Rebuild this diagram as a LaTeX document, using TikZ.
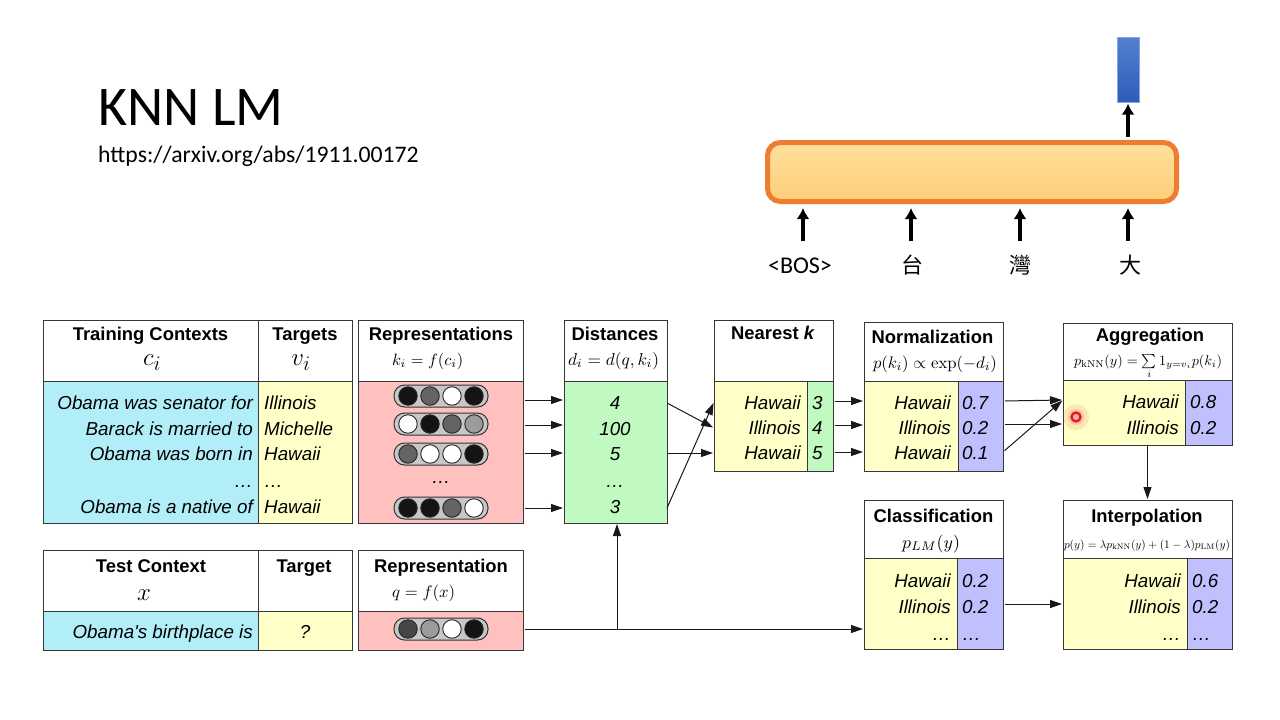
\documentclass[tikz,border=0pt]{standalone}
\usepackage{fontspec}
\usepackage{graphicx}
\usetikzlibrary{arrows.meta}
\newfontfamily\slidefont{Carlito}
\newfontfamily\cjkfont{Noto Sans CJK TC}
\newfontfamily\dfont{Liberation Sans}
\definecolor{cyanc}{RGB}{178,238,248}
\definecolor{yellowc}{RGB}{255,255,200}
\definecolor{pinkc}{RGB}{255,192,192}
\definecolor{greenc}{RGB}{192,250,192}
\definecolor{bluec}{RGB}{192,192,255}
\definecolor{bordc}{RGB}{55,55,55}
\definecolor{orangec}{RGB}{237,125,49}
\definecolor{orangetop}{RGB}{255,224,156}
\definecolor{orangebot}{RGB}{255,206,122}
\definecolor{bluetop}{RGB}{82,128,208}
\definecolor{bluebot}{RGB}{46,92,186}
\definecolor{cblack}{RGB}{20,20,20}
\definecolor{cdark}{RGB}{100,100,100}
\definecolor{cmid}{RGB}{155,155,155}
\definecolor{cdarker}{RGB}{70,70,70}
\definecolor{laser}{RGB}{232,20,30}
\newcommand\tbox[6]{\node[tablebox, fill=#2, minimum width=#5, minimum height=#6] (#1) at (#3,#4) {};}
\newcommand\pill[6]{%
  \node[pillbox] (#1) at (441,#2) {};
  \node[dotc, fill=#3] (#1a) at (408,#2) {};
  \node[dotc, fill=#4] (#1b) at (430,#2) {};
  \node[dotc, fill=#5] (#1c) at (452,#2) {};
  \node[dotc, fill=#6] (#1d) at (474,#2) {};}
\begin{document}
\begin{tikzpicture}[x=1pt,y=-1pt,
  tablebox/.style={draw=bordc, line width=1pt, inner sep=0, outer sep=0, anchor=north west},
  cellt/.style={font=\dfont\itshape\fontsize{18.8}{19}\selectfont, inner sep=0},
  hdrt/.style={font=\dfont\bfseries\fontsize{18.4}{19}\selectfont, inner sep=0, anchor=base},
  bigmath/.style={font=\fontsize{28}{28}\selectfont, inner sep=0, anchor=base},
  formula/.style={inner sep=0, anchor=base},
  pillbox/.style={draw=black!80, line width=1pt, fill=black!22, rounded corners=10.5pt, minimum width=94pt, minimum height=22pt, inner sep=0},
  dotc/.style={circle, draw=black!85, line width=0.9pt, minimum size=18.5pt, inner sep=0},
  arr/.style={draw=black!90, line width=1pt, -{Triangle[length=12pt,width=8pt]}, shorten <=2pt, shorten >=1pt},
  bigarr/.style={draw=black, line width=3.5pt, -{Latex[length=11pt,width=13pt]}},
  lbl/.style={font=\slidefont\fontsize{24}{24}\selectfont, inner sep=0, anchor=base},
  cjk/.style={font=\cjkfont\fontsize{22}{22}\selectfont, inner sep=0, anchor=base}
]
\path[use as bounding box, fill=white] (0,0) rectangle (1280,720);

% ---- title ----
\node[anchor=base west, font=\slidefont\fontsize{56}{56}\selectfont, inner sep=0] (title) at (98,125) {KNN LM};
\node[anchor=base west, font=\slidefont\fontsize{23.7}{24}\selectfont, inner sep=0] (url) at (98,162) {https://arxiv.org/abs/1911.00172};

% ---- LM block ----
\node[draw=orangec, line width=5pt, rounded corners=13pt, top color=orangetop, bottom color=orangebot, minimum width=409pt, minimum height=59pt, inner sep=0, anchor=north west] (lm) at (765,140) {};
\node[top color=bluetop, bottom color=bluebot, draw=bluetop!70!white, line width=0.6pt, minimum width=22pt, minimum height=65pt, inner sep=0, anchor=north west] (out) at (1117,37) {};
\coordinate (top0) at (1128,137);
\draw[bigarr, shorten >=1pt] (top0) -- (top0 |- out.south);
\node[lbl] (w0) at (800,273) {<BOS>};
\node[cjk] (w1) at (912,273) {台};
\node[cjk] (w2) at (1020,273) {灣};
\node[cjk] (w3) at (1130,273) {大};
\coordinate (a0) at (803,241);
\coordinate (a1) at (911,241);
\coordinate (a2) at (1020,241);
\coordinate (a3) at (1128,241);
\foreach \a in {a0,a1,a2,a3} \draw[bigarr, shorten >=4pt] (\a) -- (\a |- lm.south);

% ---- Training contexts ----
\tbox{tch1}{white}{43}{320}{215}{61}
\tbox{tch2}{white}{258}{320}{94}{61}
\tbox{tcl}{cyanc}{43}{381}{215}{142}
\tbox{tcr}{yellowc}{258}{381}{94}{142}
\node[hdrt] (tct) at (150.5,340) {Training Contexts};
\node[bigmath] (tcm) at (152,365) {$c_i$};
\node[hdrt] (tgt) at (305,340) {Targets};
\node[bigmath] (tgm) at (301,365) {$v_i$};
\node[cellt, anchor=base east] (c1) at (253,409) {Obama was senator for};
\node[cellt, anchor=base east] (c2) at (253,435) {Barack is married to};
\node[cellt, anchor=base east] (c3) at (253,460) {Obama was born in};
\node[cellt, anchor=base east] (c4) at (253,487) {\dots};
\node[cellt, anchor=base east] (c5) at (253,513) {Obama is a native of};
\node[cellt, anchor=base west] (v1) at (264,409) {Illinois};
\node[cellt, anchor=base west] (v2) at (264,435) {Michelle};
\node[cellt, anchor=base west] (v3) at (264,460) {Hawaii};
\node[cellt, anchor=base west] (v4) at (264,487) {\dots};
\node[cellt, anchor=base west] (v5) at (264,513) {Hawaii};

% ---- Representations ----
\tbox{rh}{white}{358}{320}{165}{61}
\tbox{rb}{pinkc}{358}{381}{165}{142}
\node[hdrt] (rt) at (441,340) {Representations};
\node[formula, anchor=base west] (rf) at (392,365) {\resizebox{71pt}{!}{$k_i=f(c_i)$}};
\pill{p1}{396}{cblack}{cdark}{white}{cblack}
\pill{p2}{424}{white}{cblack}{cdark}{cmid}
\pill{p3}{454}{cdark}{white}{white}{cblack}
\node[cellt] (pd) at (441,482) {\dots};
\pill{p5}{508}{cblack}{cblack}{cdark}{white}

% ---- Distances ----
\tbox{dh}{white}{564}{320}{103}{61}
\tbox{db}{greenc}{564}{381}{103}{142}
\node[hdrt] (dt) at (615,340) {Distances};
\node[formula] (df) at (613.5,365) {\resizebox{91pt}{!}{$d_i=d(q,k_i)$}};
\node[cellt, anchor=base] (d1) at (615,409) {4};
\node[cellt, anchor=base] (d2) at (615,435) {100};
\node[cellt, anchor=base] (d3) at (615,460) {5};
\node[cellt, anchor=base] (d4) at (615,487) {\dots};
\node[cellt, anchor=base] (d5) at (615,513) {3};
\foreach \yy in {400,425,453,508} \draw[arr] (rb.east |- 0,\yy) -- (db.west |- 0,\yy);

% ---- Nearest k ----
\tbox{nh}{white}{714}{320}{119}{61}
\tbox{nbl}{yellowc}{714}{381}{93}{90}
\tbox{nbr}{greenc}{807}{381}{26}{90}
\node[hdrt] (nt) at (773,339) {Nearest \textit{k}};
\node[cellt, anchor=base east] (n1) at (801,409) {Hawaii};
\node[cellt, anchor=base east] (n2) at (801,434) {Illinois};
\node[cellt, anchor=base east] (n3) at (801,459) {Hawaii};
\node[cellt, anchor=base west] (k1) at (812,409) {3};
\node[cellt, anchor=base west] (k2) at (812,434) {4};
\node[cellt, anchor=base west] (k3) at (812,459) {5};
\draw[arr, shorten <=0pt] (db.east |- 0,403) -- (nbl.west |- 0,428);
\draw[arr, shorten <=0pt] (db.east |- 0,453) -- (nbl.west |- 0,453);
\draw[arr, shorten <=0pt] (db.east |- 0,508) -- (nbl.west |- 0,402);

% ---- Normalization ----
\tbox{mh}{white}{864}{322}{139}{59}
\tbox{mbl}{yellowc}{864}{381}{94}{90}
\tbox{mbr}{bluec}{958}{381}{45}{90}
\node[hdrt] (mt) at (932.5,343) {Normalization};
\node[formula] (mf) at (935,368) {\resizebox{124pt}{!}{$p(k_i)\propto\exp(-d_i)$}};
\node[cellt, anchor=base east] (m1) at (951,409) {Hawaii};
\node[cellt, anchor=base east] (m2) at (951,434) {Illinois};
\node[cellt, anchor=base east] (m3) at (951,459) {Hawaii};
\node[cellt, anchor=base west] (q1) at (962,409) {0.7};
\node[cellt, anchor=base west] (q2) at (962,434) {0.2};
\node[cellt, anchor=base west] (q3) at (962,459) {0.1};
\foreach \yy in {401,425,452} \draw[arr] (nbr.east |- 0,\yy) -- (mbl.west |- 0,\yy);

% ---- Aggregation ----
\tbox{ah}{white}{1063}{323}{169}{57}
\tbox{abl}{yellowc}{1063}{380}{122}{65}
\tbox{abr}{bluec}{1185}{380}{47}{65}
\node[hdrt] (at) at (1150,341) {Aggregation};
\node[formula] (af) at (1148,365) {\resizebox{148pt}{!}{$p_{\mathrm{kNN}}(y)=\sum\limits_i 1_{y=v_i}p(k_i)$}};
\node[cellt, anchor=base east] (g1) at (1179,408) {Hawaii};
\node[cellt, anchor=base east] (g2) at (1179,434) {Illinois};
\node[cellt, anchor=base west] (h1) at (1190,408) {0.8};
\node[cellt, anchor=base west] (h2) at (1190,434) {0.2};
\draw[arr] (mbr.east |- 0,401) -- (abl.west |- 0,400);
\draw[arr] (mbr.east |- 0,424) -- (abl.west |- 0,424);
\draw[arr] (mbr.east |- 0,452) -- (abl.west |- 0,400);

% ---- Test context ----
\tbox{xh1}{white}{43}{550}{215}{61}
\tbox{xh2}{white}{258}{550}{94}{61}
\tbox{xbl}{cyanc}{43}{611}{215}{39}
\tbox{xbr}{yellowc}{258}{611}{94}{39}
\node[hdrt] (xt) at (151,572) {Test Context};
\node[bigmath] (xm) at (144,600) {$x$};
\node[hdrt] (xtt) at (304,572) {Target};
\node[cellt, anchor=base east] (xc) at (253,638) {Obama's birthplace is};
\node[cellt, anchor=base] (xq) at (305,638) {?};

% ---- Test representation ----
\tbox{qh}{white}{358}{550}{165}{61}
\tbox{qb}{pinkc}{358}{611}{165}{39}
\node[hdrt] (qt) at (441,572) {Representation};
\node[formula, anchor=base west] (qf) at (392,597) {\resizebox{63pt}{!}{$q=f(x)$}};
\pill{pq}{629}{cdarker}{cmid}{white}{cblack}

% ---- Classification ----
\tbox{ch}{white}{864}{500}{139}{58}
\tbox{cbl}{yellowc}{864}{558}{93}{91}
\tbox{cbr}{bluec}{957}{558}{46}{91}
\node[hdrt] (ct) at (933.5,522) {Classification};
\node[formula] (cf) at (931,548) {\resizebox{58pt}{!}{$p_{LM}(y)$}};
\node[cellt, anchor=base east] (l1) at (951,587) {Hawaii};
\node[cellt, anchor=base east] (l2) at (951,613) {Illinois};
\node[cellt, anchor=base east] (l3) at (951,640) {\dots};
\node[cellt, anchor=base west] (r1) at (962,587) {0.2};
\node[cellt, anchor=base west] (r2) at (962,613) {0.2};
\node[cellt, anchor=base west] (r3) at (962,640) {\dots};

% ---- Interpolation ----
\tbox{ih}{white}{1063}{500}{169}{58}
\tbox{ibl}{yellowc}{1063}{558}{124}{91}
\tbox{ibr}{bluec}{1187}{558}{45}{91}
\node[hdrt] (it) at (1147,522) {Interpolation};
\node[formula] (iff) at (1147,548) {\resizebox{166pt}{!}{$p(y)=\lambda p_{\mathrm{kNN}}(y)+(1-\lambda)p_{\mathrm{LM}}(y)$}};
\node[cellt, anchor=base east] (s1) at (1181,587) {Hawaii};
\node[cellt, anchor=base east] (s2) at (1181,613) {Illinois};
\node[cellt, anchor=base east] (s3) at (1181,640) {\dots};
\node[cellt, anchor=base west] (t1) at (1192,587) {0.6};
\node[cellt, anchor=base west] (t2) at (1192,613) {0.2};
\node[cellt, anchor=base west] (t3) at (1192,640) {\dots};

% ---- connectors below ----
\coordinate (junc) at (617,629);
\draw[draw=black!90, line width=1pt, shorten <=2pt] (qb.east |- junc) -- (junc);
\draw[arr, shorten <=0pt] (junc) -- (db.south -| junc);
\draw[arr, shorten <=0pt] (junc) -- (cbl.west |- junc);
\draw[arr] (cbr.east |- 0,604) -- (ibl.west |- 0,604);
\draw[arr, shorten <=0pt] (abl.south -| ih.north) -- (ih.north);

% ---- laser pointer ----
\node[circle, fill=laser, fill opacity=0.10, minimum size=26pt, inner sep=0] (glow) at (1076,417) {};
\node[circle, fill=laser, fill opacity=0.15, minimum size=16pt, inner sep=0] (glow2) at (1076,417) {};
\node[circle, draw=laser, line width=2.3pt, fill=laser!35, minimum size=9pt, inner sep=0] (ptr) at (1076,417) {};
\end{tikzpicture}
\end{document}
